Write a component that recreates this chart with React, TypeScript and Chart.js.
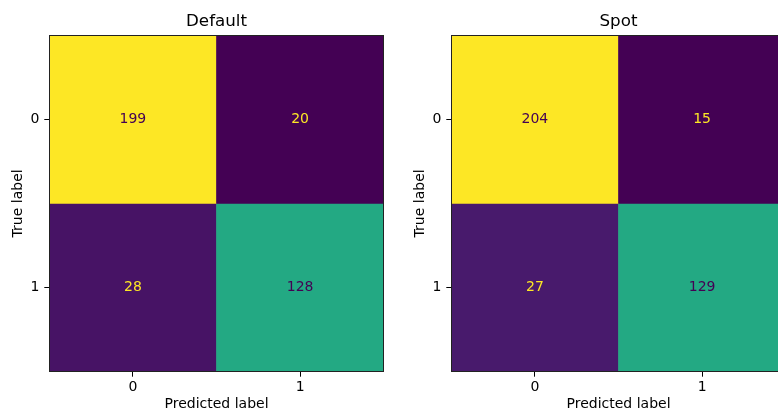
import React, { useEffect, useRef } from 'react';
import { Chart, registerables } from 'chart.js';

Chart.register(...registerables);

const CLASS_LABELS = ['0', '1'];
const Y_TICKS = [0, 1];
const X_TITLE = 'Predicted label';
const Y_TITLE = 'True label';

const DEFAULT_TITLE = 'Default';
const DEFAULT_ROW_0 = [199, 20];
const DEFAULT_ROW_1 = [28, 128];

const SPOT_TITLE = 'Spot';
const SPOT_ROW_0 = [204, 15];
const SPOT_ROW_1 = [27, 129];

const FONT = 'DejaVu Sans';
const VIRIDIS_MIN = '#440154';
const VIRIDIS_MAX = '#fde725';
const VIRIDIS_POS = [0, 0.0627, 0.111, 0.222, 0.333, 0.444, 0.5, 0.556, 0.6, 0.667, 0.778, 0.889, 1];
const VIRIDIS_HEX = ['#440154', '#481a6c', '#482878', '#3e4989', '#31688e', '#26828e', '#21918c', '#1f9e89', '#22a884', '#35b779', '#6ece58', '#b5de2b', '#fde725'];

function hexToRgb(h: string) {
  return [parseInt(h.slice(1, 3), 16), parseInt(h.slice(3, 5), 16), parseInt(h.slice(5, 7), 16)];
}

function viridis(t: number) {
  const x = Math.max(0, Math.min(1, t));
  let i = 0;
  while (i < VIRIDIS_POS.length - 2 && x > VIRIDIS_POS[i + 1]) i++;
  const f = (x - VIRIDIS_POS[i]) / (VIRIDIS_POS[i + 1] - VIRIDIS_POS[i]);
  const a = hexToRgb(VIRIDIS_HEX[i]);
  const b = hexToRgb(VIRIDIS_HEX[i + 1]);
  const m = a.map((v, k) => Math.round(v + (b[k] - v) * f));
  return `rgb(${m[0]},${m[1]},${m[2]})`;
}

const cellLabels = {
  id: 'cellLabels',
  afterDatasetsDraw(chart: any) {
    const ctx = chart.ctx;
    ctx.save();
    ctx.font = `14px "${FONT}"`;
    ctx.textAlign = 'center';
    ctx.textBaseline = 'middle';
    chart.data.datasets.forEach((ds: any, di: number) => {
      const meta = chart.getDatasetMeta(di);
      meta.data.forEach((el: any, i: number) => {
        ctx.fillStyle = ds.textColors[i];
        ctx.fillText(String(ds.counts[i]), el.x, (el.y + el.base) / 2);
      });
    });
    ctx.restore();
  },
};

const spines = {
  id: 'spines',
  afterDraw(chart: any) {
    const { left, top, right, bottom } = chart.chartArea;
    const ctx = chart.ctx;
    ctx.save();
    ctx.strokeStyle = '#222';
    ctx.lineWidth = 1;
    const x1 = Math.floor(left) + 0.5;
    const y1 = Math.floor(top) + 0.5;
    const x2 = Math.ceil(right) - 0.5;
    const y2 = Math.ceil(bottom) - 0.5;
    ctx.strokeRect(x1, y1, x2 - x1, y2 - y1);
    ctx.restore();
  },
};

function makeConfig(title: string, rows: number[][]): any {
  const all = rows.flat();
  const min = Math.min(...all);
  const max = Math.max(...all);
  const thresh = (min + max) / 2;
  const datasets = rows.map((row, r) => ({
    data: row.map(() => [Y_TICKS[r] - 0.5, Y_TICKS[r] + 0.5]),
    counts: row,
    backgroundColor: row.map((v) => viridis((v - min) / (max - min))),
    textColors: row.map((v) => (v < thresh ? VIRIDIS_MAX : VIRIDIS_MIN)),
    borderWidth: 0,
    borderSkipped: false,
    grouped: false,
    barPercentage: 1,
    categoryPercentage: 1,
  }));
  return {
    type: 'bar',
    data: { labels: CLASS_LABELS, datasets },
    options: {
      responsive: false,
      animation: false,
      events: [],
      layout: { padding: { left: 0, top: 0, right: 49.3, bottom: 0 } },
      plugins: {
        legend: { display: false },
        tooltip: { enabled: false },
        title: {
          display: true,
          fullSize: false,
          text: title,
          color: '#000',
          font: { family: FONT, size: 16.7, weight: 'normal', lineHeight: 1.2 },
          padding: { top: 11.5, bottom: 3.5 },
        },
      },
      scales: {
        x: {
          type: 'category',
          offset: true,
          grid: { offset: false, drawOnChartArea: false, drawTicks: true, tickLength: 5, color: '#000', tickWidth: 1 },
          border: { display: false },
          ticks: { color: '#000', font: { family: FONT, size: 14 }, padding: 2, maxRotation: 0, autoSkip: false },
          title: {
            display: true,
            text: X_TITLE,
            color: '#000',
            font: { family: FONT, size: 14, lineHeight: 1.2 },
            padding: { top: 0, bottom: 1 },
          },
          afterFit: (s: any) => {
            s.height = 42.3;
          },
        },
        y: {
          type: 'linear',
          min: -0.5,
          max: 1.5,
          reverse: true,
          afterBuildTicks: (s: any) => {
            s.ticks = Y_TICKS.map((v) => ({ value: v }));
          },
          grid: { drawOnChartArea: false, drawTicks: true, tickLength: 5, color: '#000', tickWidth: 1 },
          border: { display: false },
          ticks: { color: '#000', font: { family: FONT, size: 14 }, padding: 5, callback: (v: any) => String(v) },
          title: {
            display: true,
            text: Y_TITLE,
            color: '#000',
            font: { family: FONT, size: 14, lineHeight: 1.2 },
            padding: { top: 9.6, bottom: 0 },
          },
          afterFit: (s: any) => {
            s.width = 49.3;
          },
        },
      },
    },
    plugins: [cellLabels, spines],
  };
}

function Matrix({ title, rows, left }: { title: string; rows: number[][]; left: number }) {
  const ref = useRef<HTMLCanvasElement | null>(null);
  useEffect(() => {
    if (!ref.current) return;
    const chart = new Chart(ref.current, makeConfig(title, rows));
    return () => chart.destroy();
  }, [title, rows]);
  return (
    <canvas
      ref={ref}
      width={433}
      height={414}
      style={{ position: 'absolute', left, top: 0, width: 433, height: 414 }}
    />
  );
}

const DEFAULT_ROWS = [DEFAULT_ROW_0, DEFAULT_ROW_1];
const SPOT_ROWS = [SPOT_ROW_0, SPOT_ROW_1];

export default function App() {
  return (
    <div
      style={{
        position: 'absolute',
        left: 0,
        top: 0,
        width: 778,
        height: 414,
        overflow: 'hidden',
        background: '#fff',
      }}
    >
      <Matrix title={DEFAULT_TITLE} rows={DEFAULT_ROWS} left={0} />
      <Matrix title={SPOT_TITLE} rows={SPOT_ROWS} left={402} />
    </div>
  );
}
